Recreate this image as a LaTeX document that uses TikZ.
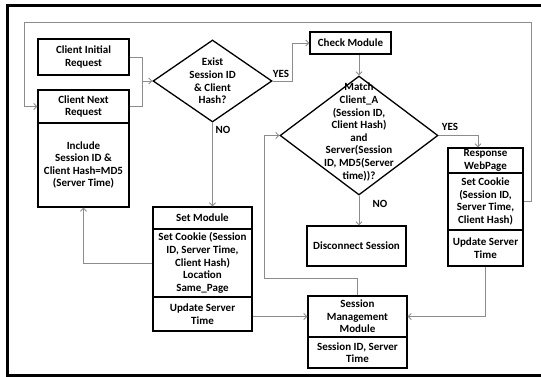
\documentclass[tikz,border=0pt]{standalone}
\usepackage{fontspec}
\setmainfont{Carlito}
\usetikzlibrary{arrows.meta,shapes.geometric}
\definecolor{gris}{RGB}{140,140,140}
\begin{document}
\begin{tikzpicture}[x=1pt,y=-1pt]
	% Styles
	\tikzstyle{police}=[font=\bfseries\fontsize{11}{12.6}\selectfont]
	\tikzstyle{boite}=[draw,line width=1.3pt,align=center,inner sep=1pt,police]
	\tikzstyle{losange}=[draw,line width=1.3pt,diamond,inner sep=0pt]
	\tikzstyle{texte}=[align=center,inner sep=0pt,police]
	\tikzstyle{trait}=[-,draw=gris,line width=0.9pt]
	\tikzstyle{fleche}=[-{Straight Barb[length=3pt,width=6pt]},draw=gris,line width=0.9pt]
	% Cadre
	\useasboundingbox (0,0) rectangle (541,377);
	\draw[line width=2.7pt] (541,5.3) -- (7.5,5.3) -- (7.5,375.5) -- (541,375.5);
	% Noeuds : client
	\node[boite,minimum width=91,minimum height=36] (initA) at (83.5,57) {Client Initial\\Request};
	\node[boite,minimum width=91,minimum height=33] (nextA) at (83.5,106.5) {Client Next\\Request};
	\node[boite,minimum width=91,minimum height=84] (inclA) at (83.5,165) {Include\\Session ID \&\\Client Hash=MD5\\(Server Time)};
	% Noeuds : tests
	\node[losange,minimum width=119,minimum height=82] (existe) at (212.5,81) {};
	\node[texte] (existeT) at (existe) {Exist\\Session ID\\\& Client\\Hash?};
	\node[boite,minimum width=81,minimum height=22] (check) at (350.5,43) {Check Module};
	\node[losange,minimum width=158,minimum height=119] (verif) at (359,135.5) {};
	\node[texte] (verifT) at (359,132) {Match\\Client\_A\\(Session ID,\\Client Hash)\\and\\Server(Session\\ID, MD5(Server\\time))?};
	% Noeuds : modules
	\node[boite,minimum width=99,minimum height=22] (setTitre) at (202.5,218) {Set Module};
	\node[boite,minimum width=99,minimum height=68] (setCorps) at (202.5,263) {Set Cookie (Session\\ID, Server Time,\\Client Hash)\\Location\\Same\_Page};
	\node[boite,minimum width=99,minimum height=34] (setMaj) at (202.5,314) {Update Server\\Time};
	\node[boite,minimum width=75,minimum height=25] (repTitre) at (485.5,160.5) {Response\\WebPage};
	\node[boite,minimum width=75,minimum height=57] (repCorps) at (485.5,201.5) {Set Cookie\\(Session ID,\\Server Time,\\Client Hash)};
	\node[boite,minimum width=75,minimum height=36] (repMaj) at (485.5,248) {Update Server\\Time};
	\node[boite,minimum width=99,minimum height=40] (deconn) at (356.5,246) {Disconnect Session};
	\node[boite,minimum width=99,minimum height=41] (gestTitre) at (357.5,316.5) {Session\\Management\\Module};
	\node[boite,minimum width=99,minimum height=31] (gestCorps) at (357.5,352.5) {Session ID, Server\\Time};
	% Etiquettes
	\node[texte] (oui1) at (281,74) {YES};
	\node[texte] (non1) at (223,130) {NO};
	\node[texte] (oui2) at (450,127) {YES};
	\node[texte] (non2) at (380,204) {NO};
	% Arcs
	\coordinate (jonction) at (142,81);
	\draw[trait] (initA.east) -| (jonction);
	\draw[trait] (nextA.east) -| (jonction);
	\draw[fleche] (jonction) -- (existe.west);
	\draw[fleche] (existe.east) -- ++(20,0) |- (check.west);
	\draw[fleche] (existe.south) -- (existe.south |- setTitre.north);
	\draw[fleche] (check.south -| verif.north) -- (verif.north);
	\draw[fleche] (verif.east) -| ([xshift=-7.5]repTitre.north);
	\draw[fleche] (verif.south) -- (verif.south |- deconn.north);
	\draw[fleche] (setMaj.east |- gestTitre.west) -- (gestTitre.west);
	\draw[fleche] (repMaj.south) |- (gestTitre.east);
	\draw[fleche] (gestTitre.north) -- ++(0,-17) -| ([xshift=-15]verif.west) -- (verif.west);
	\draw[fleche] (setCorps.west) -| (inclA.south);
	\draw[fleche] (repCorps.east) -| (531,22) -| ([xshift=-13]nextA.west) -- (nextA.west);
\end{tikzpicture}
\end{document}
